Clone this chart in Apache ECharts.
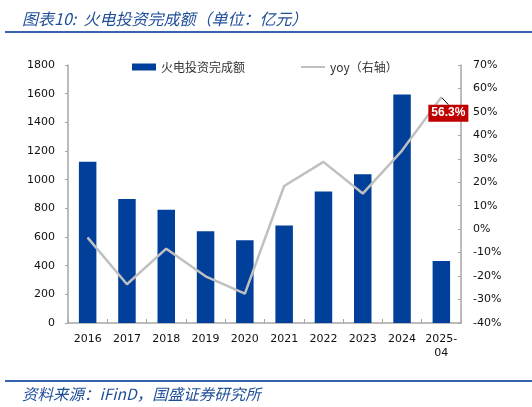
<!DOCTYPE html>
<html>
<head>
<meta charset="utf-8">
<script src="https://cdn.jsdelivr.net/npm/echarts@6/dist/echarts.min.js"></script>
<style>
html,body{margin:0;padding:0;background:#fff;}
#chart{width:532px;height:407px;}
</style>
</head>
<body>
<div id="chart"></div>
<script>
var categories = ['2016','2017','2018','2019','2020','2021','2022','2023','2024','2025-\n04'];
var investValues = [1125, 865, 790, 640, 577, 680, 918, 1037, 1595, 432];
var yoyValues = [-3.6, -23.5, -8.3, -20.1, -27.5, 18.4, 28.7, 15.2, 33.5, 56.3];
var leftTicks = {min: 0, max: 1800, interval: 200};
var rightTicks = {min: -40, max: 70, interval: 10};
var barName = '火电投资完成额';
var lineName = 'yoy（右轴）';
var titleText = '图表10:  火电投资完成额（单位：亿元）';
var sourceText = '资料来源：iFinD，国盛证券研究所';

var FONT = "'DejaVu Sans', 'Noto Sans CJK SC', sans-serif";
var CJK = "'Noto Sans CJK SC', 'DejaVu Sans', sans-serif";
var AXIS_COLOR = '#a6a6a6';
var BLUE_TEXT = '#1f4e99';
var last = yoyValues.length - 1;

var chart = echarts.init(document.getElementById('chart'), null, {renderer: 'canvas'});
chart.setOption({
  animation: false,
  backgroundColor: '#fff',
  title: [{
    text: titleText,
    left: 17, top: 5,
    textStyle: {fontFamily: CJK, fontSize: 16, fontStyle: 'italic', fontWeight: 'normal', color: BLUE_TEXT, lineHeight: 18}
  }, {
    text: sourceText,
    left: 17, top: 381,
    textStyle: {fontFamily: CJK, fontSize: 15.5, fontStyle: 'italic', fontWeight: 'normal', color: BLUE_TEXT, lineHeight: 16}
  }],
  graphic: [
    {type: 'rect', shape: {x: 5, y: 31, width: 527, height: 2}, style: {fill: '#3563ad'}},
    {type: 'rect', shape: {x: 5, y: 380, width: 527, height: 2}, style: {fill: '#3563ad'}}
  ],
  legend: {
    left: 127, top: 56,
    itemWidth: 24, itemHeight: 7, itemGap: 56,
    textStyle: {fontFamily: CJK, fontSize: 12, color: '#333'},
    data: [
      {name: barName, icon: 'rect'},
      {name: lineName, icon: 'path://M0 0H120V10H0Z', itemStyle: {color: '#c0c0c0'}}
    ]
  },
  grid: {left: 68, right: 71, top: 65, bottom: 84},
  xAxis: {
    type: 'category',
    data: categories,
    boundaryGap: true,
    axisLine: {lineStyle: {color: AXIS_COLOR, width: 1.5}},
    axisTick: {show: true, inside: true, length: 4, alignWithLabel: false, lineStyle: {color: AXIS_COLOR}},
    axisLabel: {fontFamily: FONT, fontSize: 11, color: '#111', margin: 9, lineHeight: 14, interval: 0}
  },
  yAxis: [{
    type: 'value',
    min: leftTicks.min, max: leftTicks.max, interval: leftTicks.interval,
    axisLine: {show: true, lineStyle: {color: AXIS_COLOR, width: 1.5}},
    axisTick: {show: true, inside: false, length: 3, lineStyle: {color: AXIS_COLOR}},
    splitLine: {show: false},
    axisLabel: {fontFamily: FONT, fontSize: 11, color: '#111', margin: 13, formatter: function (v) { return String(v); }}
  }, {
    type: 'value',
    position: 'right',
    min: rightTicks.min, max: rightTicks.max, interval: rightTicks.interval,
    axisLine: {show: true, lineStyle: {color: AXIS_COLOR, width: 1.5}},
    axisTick: {show: true, inside: true, length: 3, lineStyle: {color: AXIS_COLOR}},
    splitLine: {show: false},
    axisLabel: {fontFamily: FONT, fontSize: 11, color: '#111', margin: 12, formatter: function (v) { return v + '%'; }}
  }],
  series: [{
    name: barName,
    type: 'bar',
    yAxisIndex: 0,
    data: investValues,
    barWidth: 17.5,
    itemStyle: {color: '#00409a'}
  }, {
    name: lineName,
    type: 'line',
    yAxisIndex: 1,
    data: yoyValues.map(function (v, i) {
      if (i === last) {
        return {
          value: v,
          label: {
            show: true,
            position: 'inside',
            formatter: function (p) { return p.value.toFixed(1) + '%'; },
            backgroundColor: '#c00000',
            color: '#fff',
            fontFamily: "'Liberation Sans', Arial, sans-serif",
            fontWeight: 'bold',
            fontSize: 12,
            lineHeight: 13,
            padding: [2, 3, 2, 3]
          },
          labelLine: {show: true, lineStyle: {color: '#000', width: 1}}
        };
      }
      return v;
    }),
    symbol: 'circle',
    symbolSize: 1,
    showSymbol: true,
    lineStyle: {color: '#c0c0c0', width: 2.5},
    itemStyle: {color: '#c0c0c0'},
    labelLayout: function (params) {
      if (params.dataIndex === last) {
        return {dx: 7, dy: 16};
      }
      return {};
    },
    labelLine: {show: true, lineStyle: {color: '#000', width: 1}},
    z: 3
  }]
});
</script>
</body>
</html>
